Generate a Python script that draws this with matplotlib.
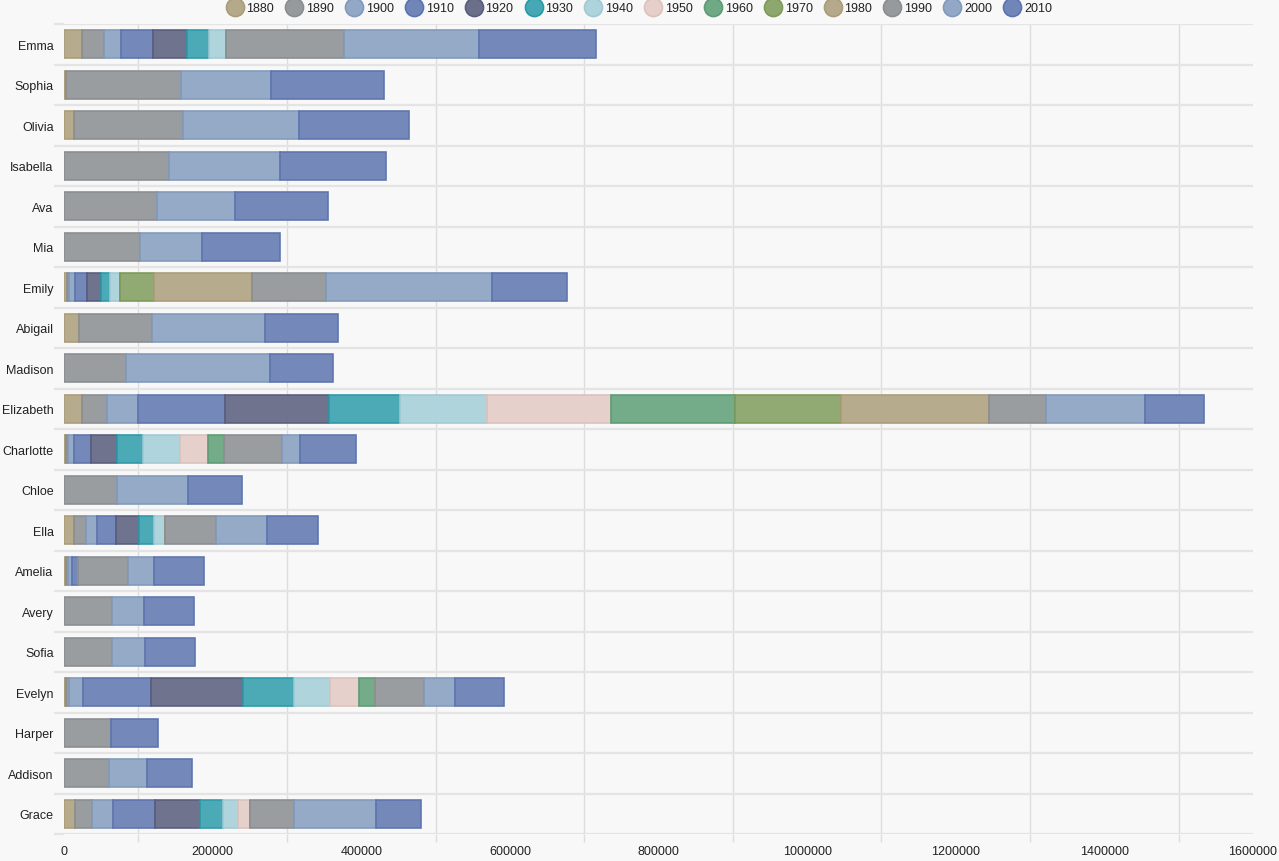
import matplotlib
matplotlib.use('agg')
import matplotlib.pyplot as plt
from matplotlib.lines import Line2D
from matplotlib.ticker import FixedLocator
import numpy as np

plt.rcParams['font.family'] = ['Liberation Sans', 'DejaVu Sans']

names = ['Emma', 'Sophia', 'Olivia', 'Isabella', 'Ava', 'Mia', 'Emily', 'Abigail',
         'Madison', 'Elizabeth', 'Charlotte', 'Chloe', 'Ella', 'Amelia', 'Avery',
         'Sofia', 'Evelyn', 'Harper', 'Addison', 'Grace']
decades = ['1880', '1890', '1900', '1910', '1920', '1930', '1940',
           '1950', '1960', '1970', '1980', '1990', '2000', '2010']

# counts per decade, one list per name (1880 ... 2010)
emma      = [24400, 29700, 23100, 42800, 46100, 29100, 23100, 0, 0, 0, 0, 158200, 182300, 157600]
sophia    = [0, 0, 0, 0, 0, 0, 0, 0, 0, 0, 3000, 155000, 120000, 152000]
olivia    = [0, 0, 0, 0, 0, 0, 0, 0, 0, 0, 14000, 146000, 156500, 148000]
isabella  = [0, 0, 0, 0, 0, 0, 0, 0, 0, 0, 0, 141000, 150000, 141700]
ava       = [0, 0, 0, 0, 0, 0, 0, 0, 0, 0, 0, 125000, 105000, 125000]
mia       = [0, 0, 0, 0, 0, 0, 0, 0, 0, 0, 0, 102000, 84000, 104000]
emily     = [3500, 3300, 8000, 16500, 18000, 12600, 13700, 0, 0, 46000, 132000, 99000, 223000, 101000]
abigail   = [0, 0, 0, 0, 0, 0, 0, 0, 0, 0, 20000, 98000, 152700, 98000]
madison   = [0, 0, 0, 0, 0, 0, 0, 0, 0, 0, 0, 83000, 194000, 84600]
elizabeth = [24400, 33500, 42300, 117000, 139500, 95600, 117500, 166000, 166900, 143300, 199300, 76300, 133600, 78600]
charlotte = [3000, 2700, 7700, 22500, 35700, 35100, 49400, 37300, 22500, 0, 0, 76900, 24700, 75800]
chloe     = [0, 0, 0, 0, 0, 0, 0, 0, 0, 0, 0, 71000, 95600, 73000]
ella      = [13800, 15900, 14900, 26000, 29800, 20200, 14900, 0, 0, 0, 0, 69200, 67800, 69700]
amelia    = [3300, 2400, 4800, 8700, 0, 0, 0, 0, 0, 0, 0, 67300, 34100, 68200]
avery     = [0, 0, 0, 0, 0, 0, 0, 0, 0, 0, 0, 65000, 42800, 67500]
sofia     = [0, 0, 0, 0, 0, 0, 0, 0, 0, 0, 0, 65000, 44500, 67000]
evelyn    = [3000, 3300, 19800, 91200, 124100, 68700, 48300, 39000, 20900, 0, 0, 65900, 42300, 65900]
harper    = [0, 0, 0, 0, 0, 0, 0, 0, 0, 0, 0, 62900, 0, 63700]
addison   = [0, 0, 0, 0, 0, 0, 0, 0, 0, 0, 0, 60100, 52200, 59900]
grace     = [15100, 23100, 27500, 57100, 60400, 31300, 20300, 15900, 0, 0, 0, 58800, 110400, 61000]

rows = [emma, sophia, olivia, isabella, ava, mia, emily, abigail, madison, elizabeth,
        charlotte, chloe, ella, amelia, avery, sofia, evelyn, harper, addison, grace]

face = ['#b5a98b', '#969a9d', '#92a8c6', '#7086b8', '#6b6f8a', '#46a8b4', '#add3dc',
        '#e6cfca', '#70a985', '#8ea76e', '#b5a98b', '#969a9d', '#92a8c6', '#7086b8']
edge = ['#ab9c78', '#8a8e91', '#8299bb', '#5c74ad', '#585d7c', '#2b9aa8', '#9fc9d3',
        '#dcc1bb', '#5c9c73', '#7c9a58', '#ab9c78', '#8a8e91', '#8299bb', '#5c74ad']

data = np.array(rows, dtype=float)

fig = plt.figure(figsize=(12.79, 8.62), dpi=100, facecolor='#f8f8f8')
ax = fig.add_axes([64 / 1279, 1 - 835 / 862, (1253 - 64) / 1279, (835 - 25) / 862])
ax.set_facecolor('#f8f8f8')

y = np.arange(len(names))
left = np.zeros(len(names))
for j in range(len(decades)):
    ax.barh(y, data[:, j], left=left, height=0.7, color=face[j], edgecolor=edge[j],
            linewidth=1.2, alpha=0.97, zorder=3)
    left += data[:, j]

ax.set_ylim(len(names) - 0.5, -0.5)
ax.set_xlim(0, 1600000)

ax.set_yticks(y)
ax.set_yticklabels(names)
ax.yaxis.set_minor_locator(FixedLocator(np.arange(-0.5, len(names), 1.0)))
ax.set_xticks(np.arange(0, 1600001, 200000))
ax.set_xticklabels([str(v) for v in range(0, 1600001, 200000)])
ax.xaxis.set_minor_locator(FixedLocator(np.arange(100000, 1600000, 200000)))

ax.tick_params(axis='both', which='major', length=0, labelsize=9, labelcolor='#222222')
ax.tick_params(axis='y', which='major', pad=7.5)
ax.tick_params(axis='x', which='major', pad=8)
ax.tick_params(axis='y', which='minor', length=7, width=1.6, color='#e4e4e4')
ax.tick_params(axis='x', which='minor', length=6, width=1, color='#dddddd')

ax.grid(True, axis='y', which='minor', color='#e4e4e4', linewidth=1.6, zorder=0)
ax.grid(True, axis='x', which='minor', color='#dddddd', linewidth=1, zorder=0)
ax.grid(False, which='major')
for s in ax.spines.values():
    s.set_visible(False)

handles = [Line2D([], [], linestyle='none', marker='o', markersize=13,
                  markerfacecolor=face[j], markeredgecolor=edge[j], markeredgewidth=1.2)
           for j in range(len(decades))]
fig.legend(handles, decades, loc='upper center', bbox_to_anchor=(0.5, 1.009), ncol=14,
           frameon=False, fontsize=9, handletextpad=0.35, columnspacing=1.0,
           handlelength=1.2, labelcolor='#222222')

plt.savefig('out.png', dpi=100, facecolor='#f8f8f8')
